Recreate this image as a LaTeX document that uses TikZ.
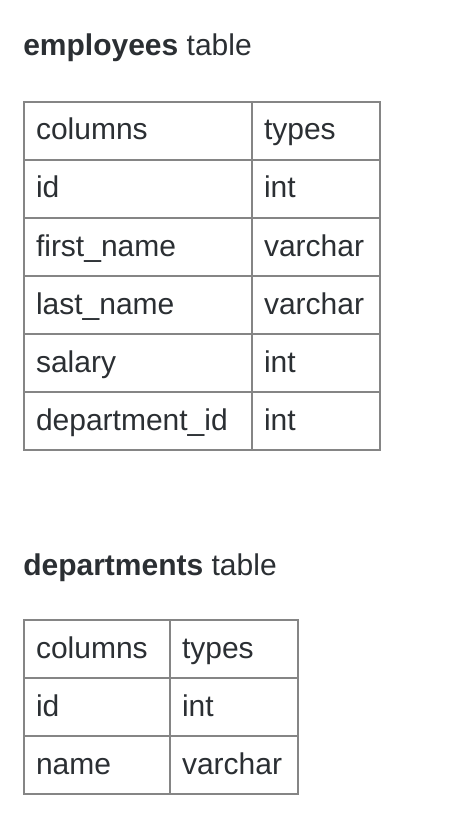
\documentclass[tikz,border=0pt]{standalone}
\usepackage{fontspec}
\setmainfont{Liberation Sans}
\definecolor{inkgray}{HTML}{2B2F33}
\definecolor{gridgray}{HTML}{858585}
\tikzset{
  cell/.style={draw=gridgray, line width=1.5pt, anchor=north west,
    minimum height=43.5pt, inner xsep=9pt, inner ysep=0pt, align=left,
    text height=18pt, text depth=4.5pt, text=inkgray,
    font=\fontsize{22.5pt}{27pt}\selectfont},
  wide/.style={text width=153pt},
  mid/.style={text width=91.5pt},
  narrow/.style={text width=78pt},
  title/.style={anchor=base west, inner sep=0pt, text=inkgray,
    font=\fontsize{22.5pt}{27pt}\selectfont}
}
\begin{document}
\begin{tikzpicture}[x=0.75pt,y=-0.75pt]
  \fill[white] (0,0) rectangle (464,834);

  % Titles
  \node[title] (emptitle) at (23,56) {\textbf{employees} table};
  \node[title] (deptitle) at (23,575) {\textbf{departments} table};

  % employees table
  \node[cell, wide] (e1a) at (23,101) {columns};
  \node[cell, narrow] (e1b) at (251,101) {types};
  \node[cell, wide] (e2a) at (23,159) {id};
  \node[cell, narrow] (e2b) at (251,159) {int};
  \node[cell, wide] (e3a) at (23,217) {first\_name};
  \node[cell, narrow] (e3b) at (251,217) {varchar};
  \node[cell, wide] (e4a) at (23,275) {last\_name};
  \node[cell, narrow] (e4b) at (251,275) {varchar};
  \node[cell, wide] (e5a) at (23,333) {salary};
  \node[cell, narrow] (e5b) at (251,333) {int};
  \node[cell, wide] (e6a) at (23,391) {\mbox{department\_id}};
  \node[cell, narrow] (e6b) at (251,391) {int};

  % departments table
  \node[cell, mid] (d1a) at (23,619) {columns};
  \node[cell, narrow] (d1b) at (169,619) {types};
  \node[cell, mid] (d2a) at (23,677) {id};
  \node[cell, narrow] (d2b) at (169,677) {int};
  \node[cell, mid] (d3a) at (23,735) {name};
  \node[cell, narrow] (d3b) at (169,735) {varchar};
\end{tikzpicture}
\end{document}
